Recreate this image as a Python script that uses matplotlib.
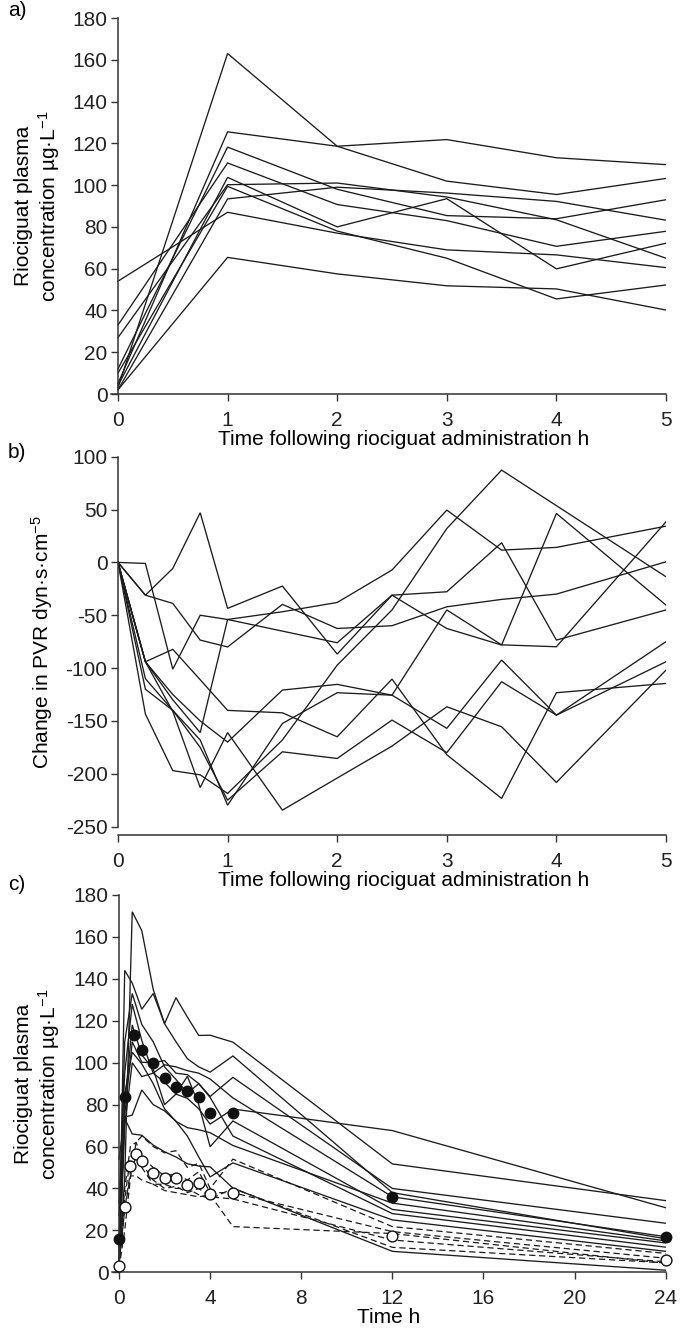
import matplotlib
matplotlib.use("Agg")
import matplotlib.pyplot as plt
from matplotlib.ticker import FixedLocator, FuncFormatter

# ---------------------------------------------------------------- data
# a) plasma concentration (ug/L), 10 patients, hours 0-5
conc_hours = [0, 1, 2, 3, 4, 5]
conc_a = [
    [5, 125.5, 118.6, 121.8, 113.1, 109.8],
    [3, 163.0, 118.6, 101.9, 95.5, 103.2],
    [12, 118.2, 98.0, 85.4, 83.9, 93.0],
    [33, 110.6, 90.7, 83.0, 70.7, 77.9],
    [4, 103.7, 80.0, 93.5, 59.9, 72.2],
    [27, 100.2, 101.0, 94.3, 83.4, 65.0],
    [2, 93.4, 99.0, 96.2, 92.2, 83.2],
    [10, 99.4, 78.0, 65.0, 45.5, 52.2],
    [54, 87.0, 77.0, 69.0, 66.6, 60.5],
    [2, 65.4, 57.5, 51.8, 50.3, 40.2],
]

# b) change in PVR (dyn.s.cm-5)
pvr_hours = [0, 0.25, 0.5, 0.75, 1, 1.5, 2, 2.5, 3, 3.5, 4, 5]
pvr_change = [
    [0, -1, -101, -50, -54, -46.7, -37.9, -7.2, 49.5, 11.6, 14.2, 34.3],
    [0, -31, -38.8, -73.5, -80, -39.7, -62.5, -59.9, -42, -35, -30, 0.6],
    [0, -31, -5.7, 47, -43.5, -22.4, -86.7, -31, -27.8, 18.6, -73.5, -45],
    [0, -94, -130, -161, -54, -65, -76, -31, -62.5, -78.2, 46.3, -40.4],
    [0, -143.5, -197, -201, -218.6, -168, -97.2, -45, 32, 87.3, 53.7, -13.6],
    [0, -94, -125, -150, -170, -120.8, -115.4, -125.6, -45, -78, -79.8, 38.4],
    [0, -120, -140, -168, -229.7, -152.4, -123.3, -125.6, -157, -92.4, -144.5, -75],
    [0, -110, -140, -175, -225, -179.2, -185.5, -149.2, -180, -112.9, -144.5, -94],
    [0, -94, -82.3, -111, -140, -142.3, -165, -110.4, -182, -223.3, -123.3, -114.5],
    [0, -94, -141, -213, -161, -234.4, -204, -173.8, -136.6, -155.5, -208.2, -101.9],
]

# c) plasma concentration over 24 h
solid_hours = [0, 0.25, 0.58, 1, 1.5, 2, 2.5, 3, 3.5, 4, 5, 12, 24]
solid_conc = [
    [5, 144, 138, 125.5, 133, 118.6, 131, 121.8, 113, 113.1, 109.8, 51.7, 34.2],
    [3, 45, 172, 163.0, 135, 118.6, 110, 101.9, 98, 95.5, 103.2, 38, 16],
    [12, 110, 133, 118.2, 110, 98.0, 92, 85.4, 90, 83.9, 93.0, 40, 23.4],
    [33, 95, 128, 110.6, 95, 90.7, 85, 83.0, 78, 70.7, 77.9, 67.6, 30.8],
    [4, 80, 118, 103.7, 97, 80.0, 85, 93.5, 80, 59.9, 72.2, 30, 14],
    [27, 75, 110, 100.2, 100, 101.0, 95, 94.3, 90, 83.4, 65.0, 28, 12],
    [2, 70, 100, 93.4, 95, 99.0, 98, 96.2, 95, 92.2, 83.2, 36, 17],
    [10, 85, 105, 99.4, 90, 78.0, 72, 65.0, 55, 45.5, 52.2, 25, 10],
    [54, 74, 75, 87.0, 80, 77.0, 72, 69.0, 68, 66.6, 60.5, 33, 15],
    [2, 73.4, 66, 65.4, 60.7, 57.5, 55, 51.8, 50.7, 50.3, 40.2, 10, 1],
]
dashed_hours = [0, 0.25, 0.5, 0.75, 1, 1.5, 2, 2.5, 3, 3.5, 4, 5, 12, 24]
dashed_conc = [
    [2, 20, 45, 62, 65, 60, 57, 58, 50, 52, 40, 54, 21.8, 9],
    [5, 40, 60, 62, 55, 50, 46, 47, 44, 48, 38, 38, 19.4, 6.7],
    [3, 35, 55, 58, 52, 44, 40, 41, 38, 40, 36, 35, 15.4, 5],
    [4, 30, 48, 55, 50, 42, 39, 38, 37, 36, 37, 21.8, 18.5, 4.3],
    [2, 30, 46, 46, 44, 42, 42, 40, 40, 37, 35, 40, 11.9, 4.5],
]
filled_mean_hours = [0, 0.25, 0.67, 1, 1.5, 2, 2.5, 3, 3.5, 4, 5, 12, 24]
filled_mean = [15.9, 83.8, 113, 106, 100, 92.5, 88.5, 86.6, 83.5, 75.8, 75.8, 35.8, 16.7]
open_mean_hours = [0, 0.25, 0.5, 0.75, 1, 1.5, 2, 2.5, 3, 3.5, 4, 5, 12, 24]
open_mean = [3.2, 31, 50.9, 56.5, 53.1, 47.5, 44.8, 44.8, 41.8, 42.6, 37.2, 37.7, 17.5, 5.9]

ticks_a_x = [0, 1, 2, 3, 4, 5]
ticks_a_y = list(range(0, 181, 20))
ticks_b_y = list(range(-250, 101, 50))
ticks_c_x = list(range(0, 25, 4))

xlabel_ab = "Time following riociguat administration h"
ylabel_conc = "Riociguat plasma\nconcentration \u00b5g\u00b7L$^{-1}$"
ylabel_pvr = "Change in PVR dyn\u00b7s\u00b7cm$^{-5}$"

# ---------------------------------------------------------------- style
plt.rcParams["font.family"] = ["Liberation Sans", "DejaVu Sans"]
plt.rcParams["font.size"] = 15
plt.rcParams["mathtext.fontset"] = "custom"
plt.rcParams["mathtext.rm"] = "Liberation Sans"
plt.rcParams["mathtext.it"] = "Liberation Sans:italic"
plt.rcParams["mathtext.bf"] = "Liberation Sans:bold"

INK = "#1c1c1c"
AXC = "#333333"
W, H = 692, 1328

fig = plt.figure(figsize=(W / 100, H / 100), dpi=100)


def rect(x0, x1, ytop, ybot):
    return [x0 / W, 1 - ybot / H, (x1 - x0) / W, (ybot - ytop) / H]


def style(ax):
    for s in ("top", "right"):
        ax.spines[s].set_visible(False)
    for s in ("left", "bottom"):
        ax.spines[s].set_linewidth(1.1)
        ax.spines[s].set_color(AXC)
    ax.tick_params(axis="both", direction="out", length=5, width=1.0,
                   color=AXC, labelcolor="#222222")
    ax.tick_params(axis="x", pad=7)
    ax.tick_params(axis="y", pad=2.5)
    ax.yaxis.set_major_formatter(FuncFormatter(lambda v, p: f"{int(round(v))}"))
    ax.xaxis.set_major_formatter(FuncFormatter(lambda v, p: f"{int(round(v))}"))


# a) ------------------------------------------------------------------
ax_a = fig.add_axes(rect(111.4, 666, 18, 394))
for row in conc_a:
    ax_a.plot(conc_hours, row, color=INK, lw=0.95, solid_joinstyle="miter")
ax_a.set_xlim(-0.06, 5)
ax_a.set_ylim(0, 180)
style(ax_a)
ax_a.spines["left"].set_position(("data", 0))
ax_a.xaxis.set_major_locator(FixedLocator(ticks_a_x))
ax_a.yaxis.set_major_locator(FixedLocator(ticks_a_y))
ax_a.set_xlabel(xlabel_ab, labelpad=0)
ax_a.xaxis.label.set_x(0.527)

# b) ------------------------------------------------------------------
ax_b = fig.add_axes(rect(118, 666, 456.7, 835))
for row in pvr_change:
    ax_b.plot(pvr_hours, row, color=INK, lw=0.95, solid_joinstyle="miter")
ax_b.set_xlim(0, 5)
ax_b.set_ylim(-257.9, 100)
style(ax_b)
ax_b.spines["left"].set_bounds(-250, 100)
ax_b.xaxis.set_major_locator(FixedLocator(ticks_a_x))
ax_b.yaxis.set_major_locator(FixedLocator(ticks_b_y))
ax_b.set_xlabel(xlabel_ab, labelpad=0)
ax_b.xaxis.label.set_x(0.522)

# c) ------------------------------------------------------------------
ax_c = fig.add_axes(rect(111.5, 665.7, 895, 1272.3))
for row in solid_conc:
    ax_c.plot(solid_hours, row, color=INK, lw=0.95, solid_joinstyle="miter")
for row in dashed_conc:
    ax_c.plot(dashed_hours, row, color=INK, lw=0.9, linestyle=(0, (5, 3)))
ax_c.plot(filled_mean_hours, filled_mean, linestyle="none", marker="o", ms=7.5,
          mfc="#111111", mec="#111111", mew=1.0, zorder=5, clip_on=False)
ax_c.plot(open_mean_hours, open_mean, linestyle="none", marker="o", ms=7.8,
          mfc="white", mec="#111111", mew=1.0, zorder=6, clip_on=False)
ax_c.set_xlim(-0.33, 24)
ax_c.set_ylim(0, 180)
style(ax_c)
ax_c.spines["left"].set_position(("data", 0))
ax_c.xaxis.set_major_locator(FixedLocator(ticks_c_x))
ax_c.yaxis.set_major_locator(FixedLocator(ticks_a_y))
ax_c.set_xlabel("Time h", labelpad=0)

# axis titles and panel letters
fig.text(38 / W, 1 - 206 / H, ylabel_conc, rotation=90, ha="center",
         va="center", multialignment="center", linespacing=1.15)
fig.text(42 / W, 1 - 642 / H, ylabel_pvr, rotation=90, ha="center", va="center")
fig.text(38 / W, 1 - 1084 / H, ylabel_conc, rotation=90, ha="center",
         va="center", multialignment="center", linespacing=1.15)
for letter, ypix in (("a)", 10), ("b)", 452), ("c)", 884)):
    fig.text(8 / W, 1 - ypix / H, letter, ha="left", va="center")

fig.savefig("out.png", dpi=100)
